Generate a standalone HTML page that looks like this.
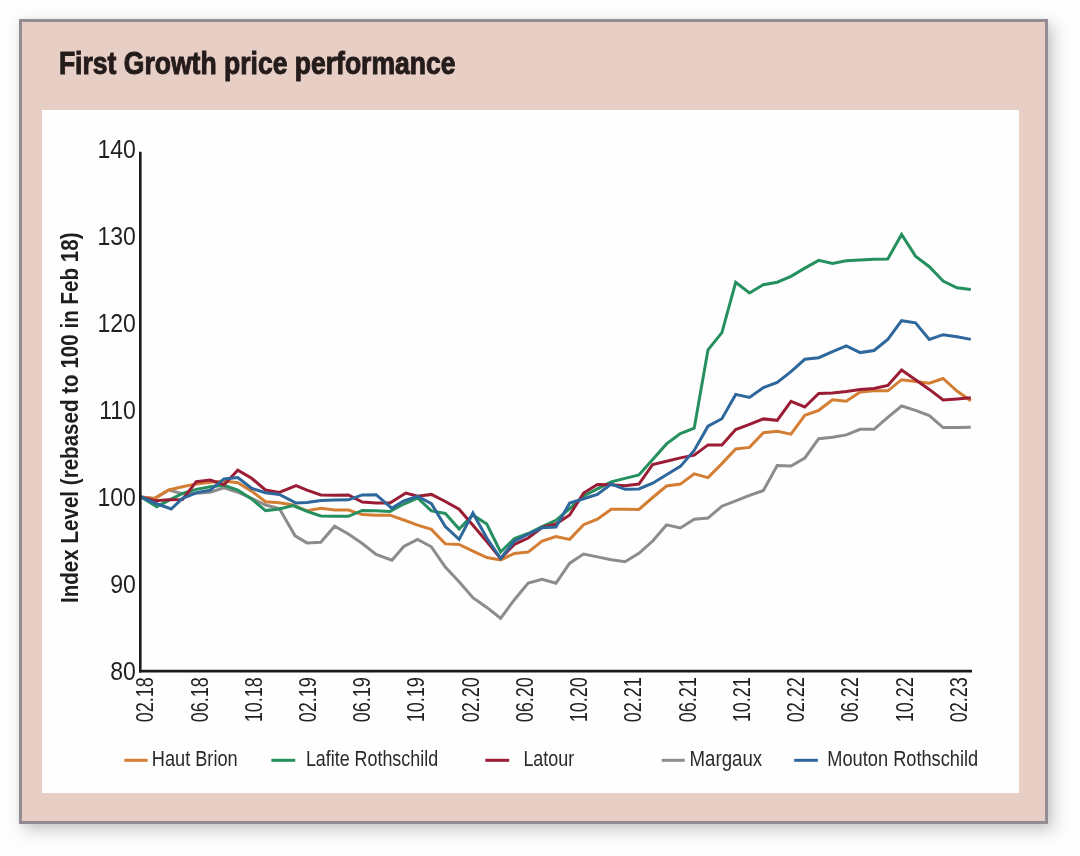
<!DOCTYPE html>
<html><head><meta charset="utf-8"><title>First Growth price performance</title>
<style>
html,body{margin:0;padding:0;width:1080px;height:856px;background:#fdfdfd;overflow:hidden}
.frame{position:absolute;left:19px;top:19px;width:1023px;height:799px;border:3px solid #938c92;background:#e7cfc6;
box-shadow:5px 6px 14px rgba(60,60,70,0.28),0 0 6px rgba(0,0,0,0.05)}
.panel{position:absolute;left:42px;top:110px;width:977px;height:683px;background:#fefefe}
svg{position:absolute;left:0;top:0}
text{font-family:"Liberation Sans",Arial,sans-serif}
</style></head><body>
<div class="frame"></div><div class="panel"></div>
<svg width="1080" height="856" viewBox="0 0 1080 856">
<text x="58.9" y="73.8" font-size="31.1" font-weight="bold" fill="#241b1b" stroke="#241b1b" stroke-width="1" textLength="396.6" lengthAdjust="spacingAndGlyphs">First Growth price performance</text>
<text transform="translate(77.6,603) rotate(-90)" font-size="23" font-weight="bold" fill="#1f1d1d" textLength="370.5" lengthAdjust="spacingAndGlyphs">Index Level (rebased to 100 in Feb 18)</text>
<g font-size="25.5" fill="#231f20">
<text transform="translate(135.9,679.7) scale(0.905,1)" text-anchor="end">80</text>
<text transform="translate(135.9,592.7) scale(0.905,1)" text-anchor="end">90</text>
<text transform="translate(135.9,505.7) scale(0.905,1)" text-anchor="end">100</text>
<text transform="translate(135.9,418.7) scale(0.905,1)" text-anchor="end">110</text>
<text transform="translate(135.9,331.7) scale(0.905,1)" text-anchor="end">120</text>
<text transform="translate(135.9,244.7) scale(0.905,1)" text-anchor="end">130</text>
<text transform="translate(135.9,157.7) scale(0.905,1)" text-anchor="end">140</text>
</g>
<g font-size="23.1" fill="#231f20">
<text transform="translate(153.3,722.3) rotate(-90)" textLength="45.2" lengthAdjust="spacingAndGlyphs">02.18</text>
<text transform="translate(207.5,722.3) rotate(-90)" textLength="45.2" lengthAdjust="spacingAndGlyphs">06.18</text>
<text transform="translate(261.8,722.3) rotate(-90)" textLength="45.2" lengthAdjust="spacingAndGlyphs">10.18</text>
<text transform="translate(316.0,722.3) rotate(-90)" textLength="45.2" lengthAdjust="spacingAndGlyphs">02.19</text>
<text transform="translate(370.2,722.3) rotate(-90)" textLength="45.2" lengthAdjust="spacingAndGlyphs">06.19</text>
<text transform="translate(424.4,722.3) rotate(-90)" textLength="45.2" lengthAdjust="spacingAndGlyphs">10.19</text>
<text transform="translate(478.7,722.3) rotate(-90)" textLength="45.2" lengthAdjust="spacingAndGlyphs">02.20</text>
<text transform="translate(532.9,722.3) rotate(-90)" textLength="45.2" lengthAdjust="spacingAndGlyphs">06.20</text>
<text transform="translate(587.1,722.3) rotate(-90)" textLength="45.2" lengthAdjust="spacingAndGlyphs">10.20</text>
<text transform="translate(641.4,722.3) rotate(-90)" textLength="45.2" lengthAdjust="spacingAndGlyphs">02.21</text>
<text transform="translate(695.6,722.3) rotate(-90)" textLength="45.2" lengthAdjust="spacingAndGlyphs">06.21</text>
<text transform="translate(749.8,722.3) rotate(-90)" textLength="45.2" lengthAdjust="spacingAndGlyphs">10.21</text>
<text transform="translate(804.1,722.3) rotate(-90)" textLength="45.2" lengthAdjust="spacingAndGlyphs">02.22</text>
<text transform="translate(858.3,722.3) rotate(-90)" textLength="45.2" lengthAdjust="spacingAndGlyphs">06.22</text>
<text transform="translate(912.5,722.3) rotate(-90)" textLength="45.2" lengthAdjust="spacingAndGlyphs">10.22</text>
<text transform="translate(966.8,722.3) rotate(-90)" textLength="45.2" lengthAdjust="spacingAndGlyphs">02.23</text>
</g>
<g fill="none" stroke-width="3" stroke-linejoin="miter" stroke-miterlimit="6">
<polyline points="141.0,497.0 154.8,498.4 168.7,490.0 182.5,493.7 196.3,493.3 210.2,492.2 224.0,487.8 237.8,492.2 251.6,498.3 265.5,505.0 279.3,508.5 295.1,535.8 307.0,542.9 320.8,542.2 334.6,526.2 348.4,533.9 362.3,543.5 376.1,554.4 391.9,560.2 403.8,546.4 417.6,539.4 431.4,546.8 445.3,567.0 459.1,581.8 472.9,597.7 486.8,607.4 500.6,618.3 514.4,599.7 528.2,583.0 542.1,579.3 555.9,583.3 569.7,563.2 583.6,554.1 597.4,556.9 611.2,559.7 625.0,561.8 638.9,553.4 652.7,541.0 666.5,524.9 680.4,528.0 694.2,519.3 708.0,518.1 721.9,506.2 735.7,500.9 749.5,495.3 763.4,490.5 777.2,465.5 791.0,466.0 804.8,458.0 818.7,438.7 832.5,437.2 846.3,434.9 860.2,429.3 874.0,429.3 887.8,417.4 901.6,406.0 915.5,410.4 929.3,415.6 943.1,427.6 957.0,427.6 970.8,427.2" stroke="#8c8c8c"/>
<polyline points="141.0,497.0 154.8,498.4 168.7,490.0 182.5,486.7 196.3,483.9 210.2,482.2 224.0,481.1 237.8,482.8 251.6,491.1 265.5,501.7 279.3,502.8 293.1,505.0 307.0,510.8 320.8,508.2 334.6,509.9 348.4,510.1 362.3,514.6 376.1,515.2 389.9,515.2 403.8,520.0 417.6,525.2 431.4,529.4 445.3,543.9 459.1,544.5 472.9,551.2 486.8,557.6 500.6,559.9 514.4,553.4 528.2,552.1 542.1,541.0 555.9,536.6 569.7,539.4 583.6,524.7 597.4,519.1 611.2,509.3 625.0,509.3 638.9,509.5 652.7,497.5 666.5,486.0 680.4,484.1 694.2,473.8 708.0,477.6 721.9,463.6 735.7,449.0 749.5,447.4 763.4,432.8 777.2,431.2 791.0,434.2 804.8,415.3 818.7,410.3 832.5,399.8 846.3,401.3 860.2,392.0 874.0,390.8 887.8,390.8 901.6,379.7 915.5,381.5 929.3,383.2 943.1,378.5 957.0,391.1 970.8,400.8" stroke="#d47e34"/>
<polyline points="141.0,497.0 156.8,506.7 168.7,500.4 182.5,493.3 196.3,489.4 210.2,486.7 224.0,485.3 237.8,490.0 251.6,498.9 265.5,510.6 279.3,508.9 293.1,505.6 307.0,511.4 320.8,515.9 334.6,516.3 348.4,516.3 362.3,510.4 376.1,510.8 389.9,511.4 403.8,504.0 417.6,498.0 431.4,510.9 445.3,513.4 459.1,529.1 472.9,515.0 486.8,524.0 500.6,552.0 514.4,538.6 528.2,533.5 542.1,526.5 555.9,520.3 569.7,508.6 583.6,495.9 597.4,488.9 611.2,481.9 625.0,478.4 638.9,474.9 652.7,459.4 666.5,443.9 680.4,433.6 694.2,428.2 708.0,349.8 721.9,332.6 735.7,282.3 749.5,293.0 763.4,284.7 777.2,282.2 791.0,276.4 804.8,268.1 818.7,260.4 832.5,263.4 846.3,260.8 860.2,259.9 874.0,259.2 887.8,258.9 901.6,234.4 915.5,256.1 929.3,266.7 943.1,281.1 957.0,287.8 970.8,289.4" stroke="#25905d"/>
<polyline points="141.0,497.0 154.8,500.7 168.7,499.8 182.5,499.4 196.3,481.7 210.2,480.0 224.0,484.7 237.8,470.2 251.6,478.3 265.5,490.0 279.3,492.4 296.1,485.7 307.0,490.2 320.8,494.9 334.6,495.3 348.4,494.9 362.3,502.1 376.1,503.0 389.9,503.0 405.8,493.1 417.6,496.3 431.4,494.4 445.3,501.5 459.1,509.2 472.9,525.2 486.8,541.5 500.6,558.5 514.4,544.4 528.2,538.0 542.1,527.5 555.9,524.0 569.7,514.9 583.6,493.1 597.4,484.5 611.2,484.7 625.0,485.7 638.9,484.0 652.7,464.5 666.5,461.3 680.4,457.9 694.2,455.1 708.0,444.9 721.9,444.9 735.7,429.5 749.5,424.3 763.4,418.9 777.2,420.3 791.0,401.4 804.8,407.0 818.7,393.4 832.5,393.0 846.3,391.5 860.2,389.4 874.0,388.5 887.8,385.5 901.6,370.1 915.5,379.7 929.3,389.4 943.1,399.9 957.0,399.0 970.8,397.8" stroke="#9b1d35"/>
<polyline points="141.0,497.0 154.8,503.0 171.2,509.0 182.5,498.3 196.3,492.8 210.2,490.2 224.0,478.9 237.8,477.6 251.6,488.3 265.5,492.8 279.3,494.4 296.1,503.0 307.0,502.4 320.8,500.5 334.6,500.1 348.4,499.8 362.3,494.9 376.1,494.7 391.7,508.2 403.8,500.8 417.6,496.3 431.4,503.7 445.3,526.5 459.1,539.4 472.9,513.0 486.8,538.0 500.6,558.5 514.4,541.2 528.2,534.1 542.1,527.8 555.9,527.0 569.7,503.0 583.6,498.7 597.4,494.5 611.2,484.0 625.0,489.3 638.9,488.9 652.7,483.2 666.5,474.8 680.4,466.4 694.2,450.5 708.0,426.2 721.9,418.7 735.7,394.4 749.5,397.4 763.4,387.5 777.2,382.5 791.0,371.6 804.8,359.3 818.7,357.7 832.5,351.7 846.3,345.9 860.2,352.6 874.0,350.5 887.8,339.4 901.6,320.7 915.5,322.8 929.3,339.4 943.1,334.7 957.0,336.8 970.8,339.4" stroke="#2e679c"/>
</g>
<line x1="140.3" y1="151.8" x2="140.3" y2="672.5" stroke="#1c1a1a" stroke-width="2.6"/>
<line x1="139" y1="671.2" x2="972" y2="671.2" stroke="#1c1a1a" stroke-width="2.8"/>
<g font-size="22.7" fill="#2a2a2a">
<line x1="124.3" y1="760.3" x2="147.6" y2="760.3" stroke="#d47e34" stroke-width="3"/>
<text x="151.8" y="765.5" textLength="85.9" lengthAdjust="spacingAndGlyphs">Haut Brion</text>
<line x1="271.4" y1="760.3" x2="295.2" y2="760.3" stroke="#25905d" stroke-width="3"/>
<text x="305.9" y="765.5" textLength="132.2" lengthAdjust="spacingAndGlyphs">Lafite Rothschild</text>
<line x1="485.3" y1="760.3" x2="509.2" y2="760.3" stroke="#9b1d35" stroke-width="3"/>
<text x="523.4" y="765.5" textLength="50.8" lengthAdjust="spacingAndGlyphs">Latour</text>
<line x1="661.7" y1="760.3" x2="684.7" y2="760.3" stroke="#8c8c8c" stroke-width="3"/>
<text x="689.6" y="765.5" textLength="72.5" lengthAdjust="spacingAndGlyphs">Margaux</text>
<line x1="794.2" y1="760.3" x2="817.9" y2="760.3" stroke="#2e679c" stroke-width="3"/>
<text x="827.3" y="765.5" textLength="150.9" lengthAdjust="spacingAndGlyphs">Mouton Rothschild</text>
</g>
</svg>
</body></html>
